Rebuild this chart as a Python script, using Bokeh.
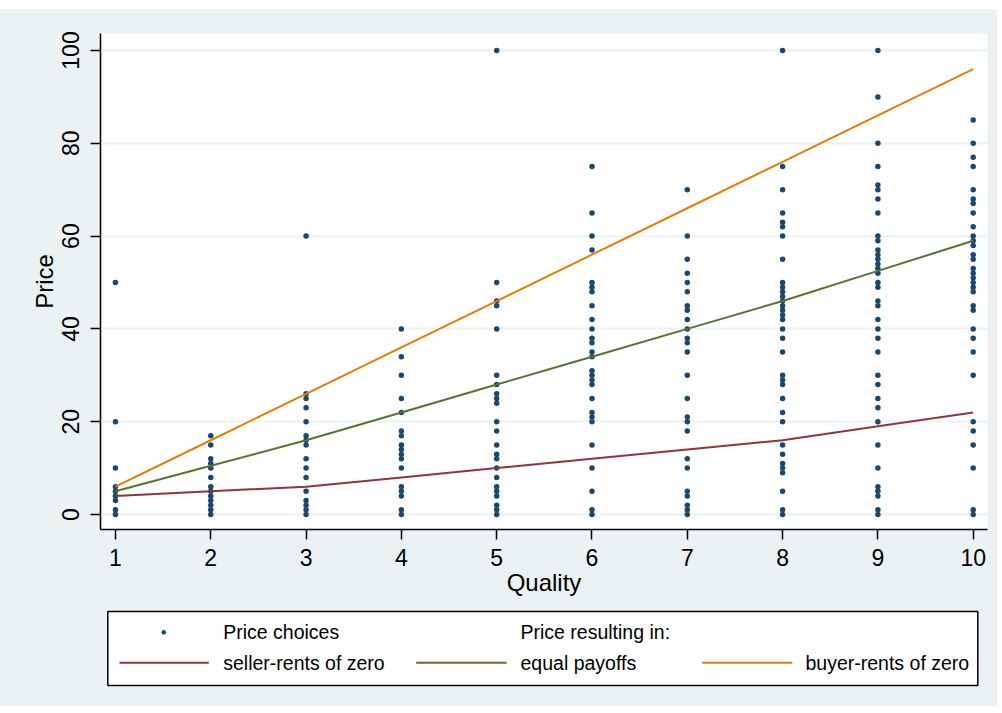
from bokeh.plotting import figure
from bokeh.layouts import column
from bokeh.models import Range1d, FixedTicker, ColumnDataSource, Spacer
from bokeh.core.properties import value
from bokeh.embed import file_html
from bokeh.resources import INLINE

# ---------------- data ----------------
quality = [1, 2, 3, 4, 5, 6, 7, 8, 9, 10]

price_q1 = [0, 1, 3, 4, 5, 6, 10, 20, 50]
price_q2 = [0, 1, 2, 3, 4, 5, 6, 8, 10, 11, 12, 15, 17]
price_q3 = [0, 1, 2, 3, 5, 8, 10, 12, 15, 16, 17, 20, 23, 25, 26, 60]
price_q4 = [0, 1, 4, 5, 6, 10, 12, 13, 14, 15, 17, 18, 22, 25, 30, 34, 40]
price_q5 = [0, 1, 2, 4, 5, 6, 8, 10, 12, 13, 15, 18, 20, 24, 25, 26, 28, 30,
            40, 45, 46, 50, 100]
price_q6 = [0, 1, 5, 10, 15, 20, 21, 22, 25, 28, 29, 30, 31, 34, 35, 37, 38,
            40, 42, 45, 48, 49, 50, 57, 60, 65, 75]
price_q7 = [0, 1, 2, 4, 5, 10, 12, 18, 20, 21, 25, 30, 35, 37, 38, 40, 42, 44,
            45, 48, 50, 52, 55, 60, 70]
price_q8 = [0, 1, 5, 9, 10, 11, 13, 15, 20, 22, 25, 28, 29, 30, 35, 38, 40, 42,
            43, 44, 45, 46, 47, 48, 49, 50, 55, 60, 62, 63, 65, 70, 75, 100]
price_q9 = [0, 1, 4, 5, 6, 10, 15, 20, 23, 25, 28, 30, 35, 38, 40, 42, 45, 46,
            49, 50, 52, 53, 54, 55, 56, 57, 59, 60, 65, 68, 70, 71, 75, 80, 90,
            100]
price_q10 = [0, 1, 10, 15, 18, 20, 30, 35, 38, 40, 44, 45, 48, 49, 50, 51, 52,
             53, 55, 56, 58, 59, 60, 62, 65, 67, 68, 70, 75, 77, 80, 85]

price_choices = [price_q1, price_q2, price_q3, price_q4, price_q5,
                 price_q6, price_q7, price_q8, price_q9, price_q10]

seller_zero = [4, 5, 6, 8, 10, 12, 14, 16, 19, 22]
equal_payoffs = [5, 10.5, 16, 22, 28, 34, 40, 46, 52.5, 59]
buyer_zero = [6, 16, 26, 36, 46, 56, 66, 76, 86, 96]

y_ticks = [0, 20, 40, 60, 80, 100]

legend_labels = ["Price choices", "Price resulting in:",
                 "seller-rents of zero", "equal payoffs", "buyer-rents of zero"]

# ---------------- styles ----------------
BG = "#eaf2f3"
NAVY = "#1a476f"
MAROON = "#90353b"
GREEN = "#55752f"
ORANGE = "#e37e00"
FONT = "Liberation Sans"

xs, ys = [], []
for q, plist in zip(quality, price_choices):
    for v in plist:
        xs.append(q)
        ys.append(v)

BL, BR = 100, 10   # shared left/right borders so both panels align

p = figure(width=997, height=596,
           x_range=Range1d(0.843, 10.15), y_range=Range1d(-3.23, 103.66),
           output_backend="svg", toolbar_location=None,
           min_border_left=BL, min_border_right=BR,
           min_border_top=24, min_border_bottom=76,
           border_fill_color=BG, background_fill_color="white",
           outline_line_color=None)

p.xgrid.visible = False
p.ygrid.grid_line_color = BG
p.ygrid.grid_line_width = 2
p.ygrid.ticker = FixedTicker(ticks=y_ticks)

p.scatter(xs, ys, size=5.5, color=NAVY, line_color=None)
p.line(quality, seller_zero, color=MAROON, line_width=2)
p.line(quality, equal_payoffs, color=GREEN, line_width=2)
p.line(quality, buyer_zero, color=ORANGE, line_width=2)

p.xaxis.ticker = FixedTicker(ticks=quality)
p.yaxis.ticker = FixedTicker(ticks=y_ticks)
p.xaxis.axis_label = "Quality"
p.yaxis.axis_label = "Price"
for ax in (p.xaxis[0], p.yaxis[0]):
    ax.axis_line_color = "black"
    ax.axis_line_width = 1.5
    ax.major_tick_line_color = "black"
    ax.major_tick_line_width = 1.5
    ax.major_tick_out = 10
    ax.major_tick_in = 0
    ax.minor_tick_line_color = None
    ax.major_label_text_font = FONT
    ax.major_label_text_font_size = "23px"
    ax.major_label_text_color = "black"
    ax.axis_label_text_font = FONT
    ax.axis_label_text_font_size = "24px"
    ax.axis_label_text_font_style = "normal"
    ax.axis_label_text_color = "black"
p.xaxis.major_label_standoff = 9
p.xaxis.axis_label_standoff = 0
p.yaxis.major_label_standoff = 11
p.yaxis.axis_label_standoff = 2
p.yaxis.major_label_orientation = "vertical"

# ---------------- legend panel ----------------
LW = 997 - BL - BR
LH = 101
lg = figure(width=997, height=LH,
            x_range=Range1d(0, LW), y_range=Range1d(0, LH),
            output_backend="svg", toolbar_location=None,
            x_axis_location=None, y_axis_location=None,
            min_border_left=BL, min_border_right=BR,
            min_border_top=0, min_border_bottom=0,
            border_fill_color=BG, background_fill_color=BG,
            outline_line_color=None)
lg.grid.visible = False

lg.quad(left=[7.3], right=[877.3], bottom=[21], top=[95],
        fill_color="white", line_color="black", line_width=1.5)

row1, row2 = 74.3, 43.7
lg.scatter([63.3], [row1], size=4.5, color=NAVY, line_color=None)
lg.segment(x0=[19, 315.7, 601.7], y0=[row2] * 3, x1=[108.3, 406, 691.7], y1=[row2] * 3,
           line_color=[MAROON, GREEN, ORANGE], line_width=2)
src = ColumnDataSource(dict(x=[122.7, 420, 122.7, 420, 705],
                            y=[row1, row1, row2, row2, row2],
                            t=legend_labels))
lg.text(x="x", y="y", text="t", source=src, text_font=value(FONT),
        text_font_size="19.5px", text_baseline="middle", text_align="left",
        text_color="black")

top_gap = Spacer(width=997, height=9, styles={"background-color": "white"})
layout = column(top_gap, p, lg, spacing=0,
                styles={"background-color": BG})

open("out.html", "w").write(file_html(layout, INLINE))
